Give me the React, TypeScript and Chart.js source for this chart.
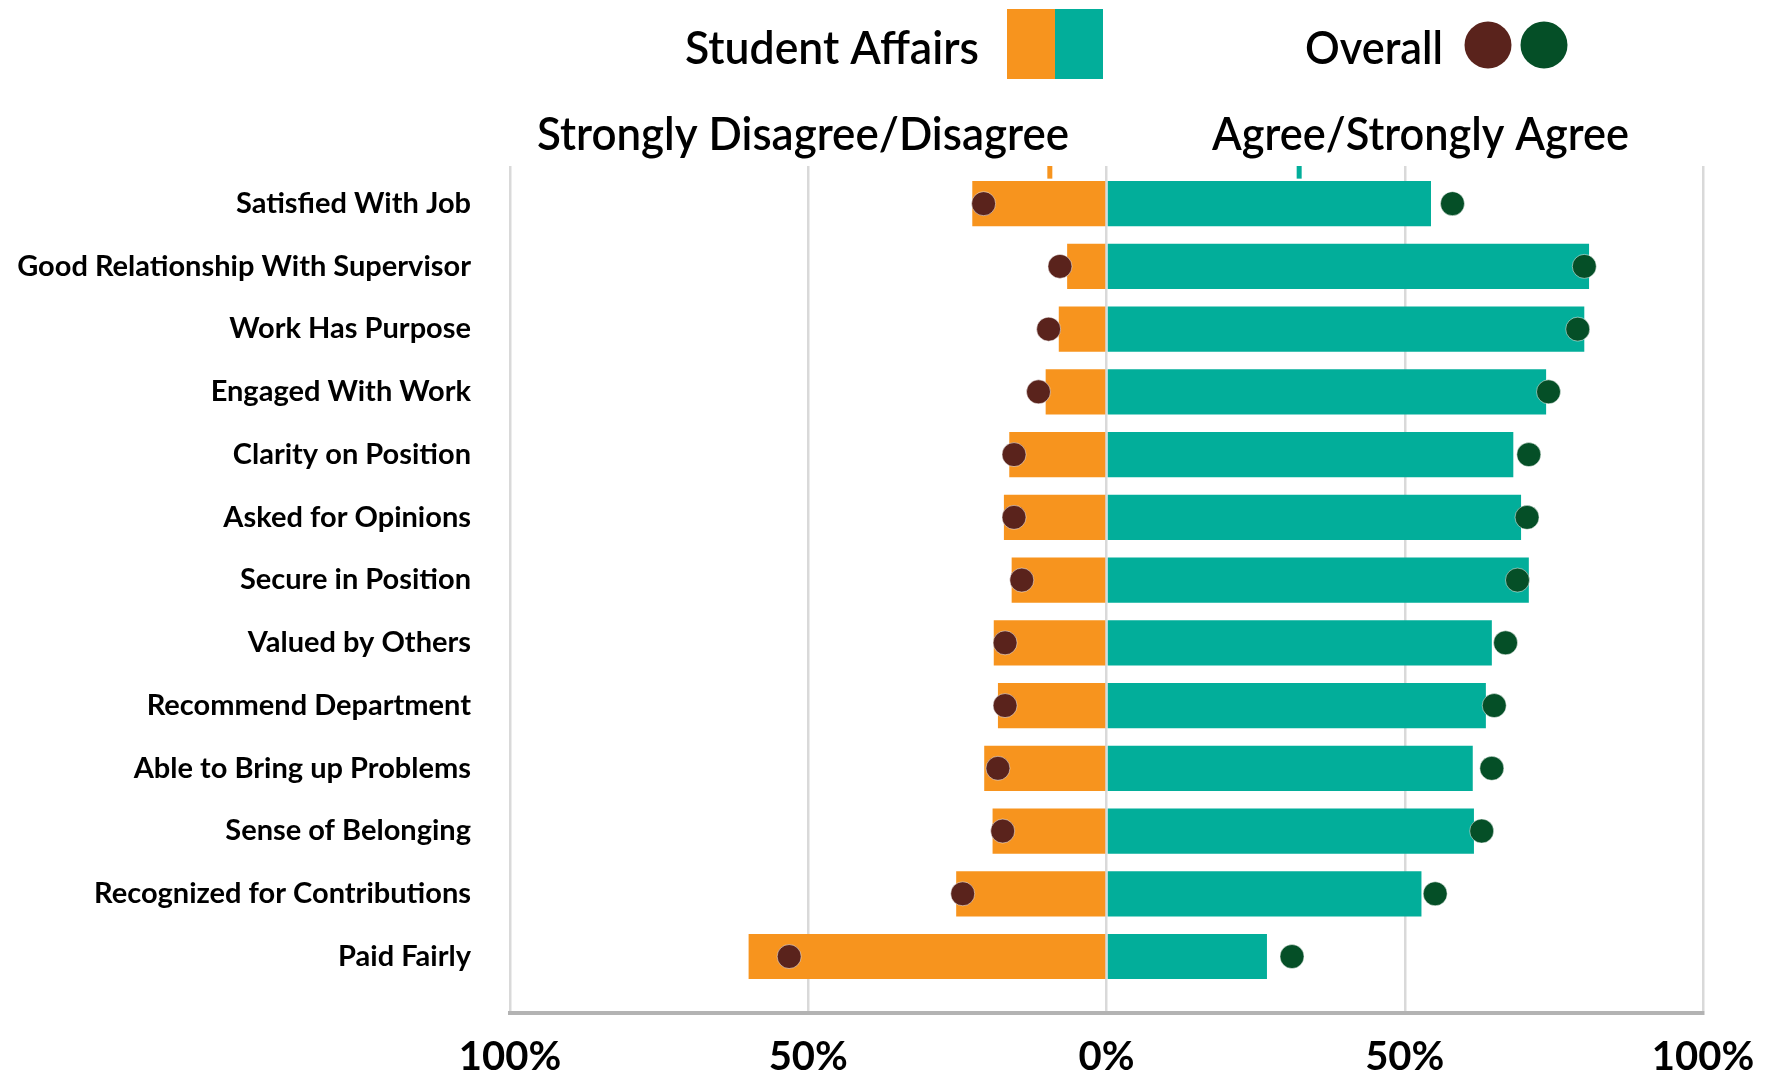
import React, { useEffect, useRef } from "react";
import { Chart, registerables } from "chart.js";

Chart.register(...registerables);

const categories = [
  "Satisfied With Job",
  "Good Relationship With Supervisor",
  "Work Has Purpose",
  "Engaged With Work",
  "Clarity on Position",
  "Asked for Opinions",
  "Secure in Position",
  "Valued by Others",
  "Recommend Department",
  "Able to Bring up Problems",
  "Sense of Belonging",
  "Recognized for Contributions",
  "Paid Fairly",
];

// Student Affairs (percent)
const saDisagree = [22.5, 6.6, 8.0, 10.2, 16.3, 17.2, 15.9, 18.9, 18.2, 20.5, 19.1, 25.2, 60.0];
const saAgree = [54.4, 80.9, 80.1, 73.7, 68.2, 69.5, 70.8, 64.6, 63.6, 61.4, 61.6, 52.8, 26.9];

// Overall (percent)
const overallDisagree = [20.6, 7.8, 9.7, 11.4, 15.5, 15.5, 14.2, 17.0, 17.0, 18.2, 17.4, 24.1, 53.2];
const overallAgree = [58.0, 80.1, 79.0, 74.1, 70.8, 70.5, 68.9, 66.9, 65.0, 64.6, 62.9, 55.1, 31.1];

// small reference marks above the first row
const markDisagree = [9.5];
const markAgree = [32.3];

const xTicks = [-100, -50, 0, 50, 100];

const ORANGE = "#F7941E";
const TEAL = "#02AE9A";
const BROWN = "#5A231C";
const GREEN = "#054F27";

const FONT = "Lato, 'Open Sans', sans-serif";

function fitText(ctx: CanvasRenderingContext2D, text: string, left: number, right: number, baseline: number, size: number) {
  ctx.save();
  ctx.font = `600 ${size}px ${FONT}`;
  ctx.fillStyle = "#000";
  ctx.textAlign = "left";
  ctx.textBaseline = "alphabetic";
  const w = ctx.measureText(text).width;
  const sx = (right - left) / w;
  ctx.translate(left, baseline);
  ctx.scale(sx, 1);
  ctx.fillText(text, 0, 0);
  ctx.restore();
}

const headerPlugin = {
  id: "headerPlugin",
  afterDraw(chart: any) {
    const ctx = chart.ctx as CanvasRenderingContext2D;
    fitText(ctx, "Student Affairs", 685, 979, 64, 46);
    ctx.save();
    ctx.fillStyle = ORANGE;
    ctx.fillRect(1007, 9, 48, 70);
    ctx.fillStyle = TEAL;
    ctx.fillRect(1055, 9, 48, 70);
    ctx.restore();
    fitText(ctx, "Overall", 1305, 1443, 64, 46);
    ctx.save();
    ctx.fillStyle = BROWN;
    ctx.beginPath();
    ctx.arc(1488, 45, 23.5, 0, Math.PI * 2);
    ctx.fill();
    ctx.fillStyle = GREEN;
    ctx.beginPath();
    ctx.arc(1544, 45, 23.5, 0, Math.PI * 2);
    ctx.fill();
    ctx.restore();
    fitText(ctx, "Strongly Disagree/Disagree", 537, 1069, 150, 46);
    fitText(ctx, "Agree/Strongly Agree", 1212, 1629, 150, 46);
  },
};

export default function App() {
  const ref = useRef<HTMLCanvasElement | null>(null);

  useEffect(() => {
    if (!ref.current) return;
    const idx = categories.map((_, i) => i);
    const chart = new Chart(ref.current, {
      type: "bar",
      data: {
        datasets: [
          {
            type: "scatter",
            label: "Overall Disagree",
            data: idx.map((i) => ({ x: -overallDisagree[i], y: i })),
            backgroundColor: BROWN,
            borderColor: "rgba(255,255,255,0.5)",
            borderWidth: 1,
            pointRadius: 12,
            order: 0,
          } as any,
          {
            type: "scatter",
            label: "Overall Agree",
            data: idx.map((i) => ({ x: overallAgree[i], y: i })),
            backgroundColor: GREEN,
            borderColor: "rgba(255,255,255,0.5)",
            borderWidth: 1,
            pointRadius: 12,
            order: 0,
          } as any,
          {
            type: "scatter",
            label: "Marks Disagree",
            data: markDisagree.map((v) => ({ x: -v, y: -0.51 })),
            pointStyle: "line",
            rotation: 90,
            pointRadius: 7,
            borderColor: ORANGE,
            borderWidth: 5,
            order: 1,
          } as any,
          {
            type: "scatter",
            label: "Marks Agree",
            data: markAgree.map((v) => ({ x: v, y: -0.51 })),
            pointStyle: "line",
            rotation: 90,
            pointRadius: 7,
            borderColor: TEAL,
            borderWidth: 5,
            order: 1,
          } as any,
          {
            type: "bar",
            label: "Strongly Disagree/Disagree",
            data: idx.map((i) => ({ x: -saDisagree[i], y: i })),
            backgroundColor: ORANGE,
            stack: "sa",
            barPercentage: 0.72,
            categoryPercentage: 1,
            order: 2,
          } as any,
          {
            type: "bar",
            label: "Agree/Strongly Agree",
            data: idx.map((i) => ({ x: saAgree[i], y: i })),
            backgroundColor: TEAL,
            stack: "sa",
            barPercentage: 0.72,
            categoryPercentage: 1,
            order: 2,
          } as any,
        ],
      },
      options: {
        indexAxis: "y",
        animation: false,
        responsive: false,
        maintainAspectRatio: false,
        layout: { padding: { top: 166, right: 65, left: 0, bottom: 0 } },
        plugins: {
          legend: { display: false },
          tooltip: { enabled: false },
          title: { display: false },
        },
        scales: {
          x: {
            type: "linear",
            stacked: true,
            min: -100,
            max: 100,
            afterBuildTicks: (scale: any) => {
              scale.ticks = xTicks.map((v) => ({ value: v }));
            },
            afterFit: (scale: any) => {
              scale.height = 64;
              scale.paddingLeft = 0;
              scale.paddingRight = 0;
            },
            ticks: {
              padding: 20,
              color: "#000",
              maxRotation: 0,
              font: { family: FONT, size: 40, weight: "bold" },
              callback: (v: any) => Math.abs(Number(v)) + "%",
            },
            grid: { color: "#d9d9d9", lineWidth: 2.5, drawTicks: false },
            border: { display: true, color: "#b3b3b3", width: 4 },
          },
          y: {
            type: "linear",
            reverse: true,
            offset: false,
            min: -0.6,
            max: 12.9,
            afterBuildTicks: (scale: any) => {
              scale.ticks = categories.map((_, i) => ({ value: i }));
            },
            afterFit: (scale: any) => {
              scale.width = 510;
            },
            ticks: {
              padding: 39,
              color: "#000",
              autoSkip: false,
              font: { family: FONT, size: 29, weight: "bold" },
              callback: (v: any) => categories[Number(v)] ?? "",
            },
            grid: { display: false, drawTicks: false, offset: false },
            border: { display: false },
          },
        },
      },
      plugins: [headerPlugin],
    } as any);
    return () => chart.destroy();
  }, []);

  return (
    <div style={{ position: "fixed", left: 0, top: 0, width: 1768, height: 1077, background: "#fff" }}>
      <canvas ref={ref} width={1768} height={1077} style={{ display: "block", width: 1768, height: 1077 }} />
    </div>
  );
}
